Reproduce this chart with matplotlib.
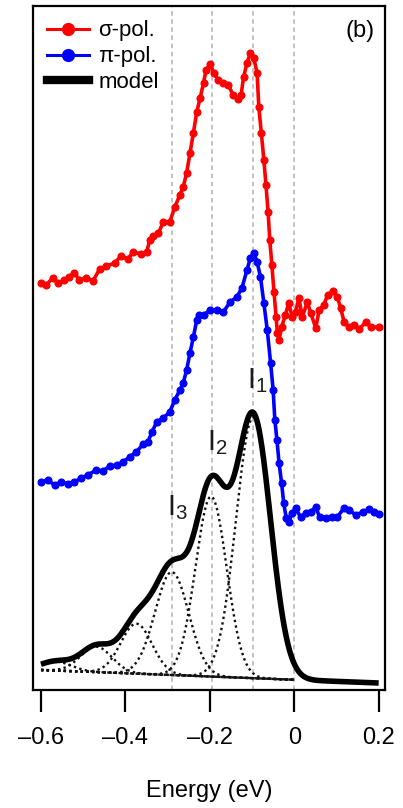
import numpy as np
import matplotlib
matplotlib.use("Agg")
import matplotlib.pyplot as plt
from matplotlib.lines import Line2D

plt.rcParams['font.family'] = ['Liberation Sans', 'DejaVu Sans']
plt.rcParams['mathtext.fontset'] = 'custom'
plt.rcParams['mathtext.rm'] = 'Liberation Sans'
plt.rcParams['mathtext.it'] = 'Liberation Sans'

# sigma-polarised spectrum (offset vertically)
sigma_energy = [-0.600, -0.588, -0.572, -0.560, -0.545, -0.533, -0.521, -0.509, -0.493, -0.477,
                -0.461, -0.445, -0.425, -0.411, -0.394, -0.382, -0.362, -0.350, -0.342, -0.334,
                -0.322, -0.310, -0.295, -0.283, -0.271, -0.263, -0.255, -0.247, -0.239, -0.231,
                -0.223, -0.215, -0.209, -0.199, -0.191, -0.180, -0.168, -0.156, -0.145, -0.134,
                -0.126, -0.120, -0.112, -0.104, -0.096, -0.088, -0.084, -0.078, -0.072, -0.067,
                -0.062, -0.058, -0.053, -0.048, -0.043, -0.040, -0.036, -0.030, -0.021, -0.013,
                -0.005, 0.003, 0.011, 0.019, 0.031, 0.039, 0.051, 0.059, 0.070, 0.079,
                0.092, 0.102, 0.110, 0.118, 0.130, 0.142, 0.154, 0.170, 0.182, 0.201]
sigma_intensity = [4.07, 4.05, 4.12, 4.07, 4.10, 4.13, 4.17, 4.10, 4.12, 4.09,
                   4.21, 4.24, 4.27, 4.34, 4.31, 4.38, 4.36, 4.38, 4.50, 4.54,
                   4.57, 4.68, 4.68, 4.83, 4.95, 5.03, 5.17, 5.37, 5.57, 5.78,
                   5.92, 6.07, 6.20, 6.26, 6.17, 6.10, 6.07, 6.05, 5.95, 5.91,
                   5.95, 6.13, 6.27, 6.37, 6.32, 6.17, 5.83, 5.57, 5.30, 5.05,
                   4.78, 4.50, 4.25, 3.98, 3.73, 3.57, 3.50, 3.63, 3.75, 3.87,
                   3.73, 3.78, 3.92, 3.73, 3.88, 3.77, 3.62, 3.80, 3.85, 3.95,
                   3.99, 3.93, 3.82, 3.68, 3.63, 3.65, 3.61, 3.68, 3.63, 3.63]

# pi-polarised spectrum
pi_energy = [-0.600, -0.584, -0.568, -0.552, -0.537, -0.521, -0.505, -0.489, -0.469, -0.453,
             -0.437, -0.421, -0.406, -0.390, -0.374, -0.358, -0.347, -0.337, -0.326, -0.310,
             -0.295, -0.283, -0.271, -0.263, -0.255, -0.247, -0.239, -0.231, -0.225, -0.215,
             -0.199, -0.183, -0.168, -0.152, -0.136, -0.124, -0.112, -0.104, -0.096, -0.088,
             -0.080, -0.072, -0.064, -0.056, -0.050, -0.046, -0.041, -0.036, -0.030, -0.025,
             -0.019, -0.013, -0.005, 0.003, 0.015, 0.027, 0.039, 0.051, 0.060, 0.075,
             0.090, 0.102, 0.118, 0.130, 0.146, 0.162, 0.178, 0.190, 0.201]
pi_intensity = [2.08, 2.10, 2.05, 2.08, 2.06, 2.08, 2.12, 2.15, 2.20, 2.19,
                2.24, 2.25, 2.28, 2.33, 2.38, 2.46, 2.48, 2.58, 2.68, 2.72,
                2.78, 2.90, 3.00, 3.07, 3.20, 3.37, 3.53, 3.70, 3.75, 3.75,
                3.80, 3.80, 3.78, 3.88, 3.93, 4.02, 4.20, 4.32, 4.37, 4.28,
                4.13, 3.87, 3.60, 3.27, 3.00, 2.70, 2.50, 2.27, 2.07, 1.87,
                1.72, 1.68, 1.77, 1.82, 1.73, 1.77, 1.78, 1.83, 1.73, 1.72,
                1.73, 1.73, 1.82, 1.80, 1.75, 1.78, 1.81, 1.78, 1.76]

# model: linear background plus Gaussian components
background_ends = [0.20, 0.07]          # background at -0.6 eV and 0.2 eV
peak_centers = [-0.097, -0.197, -0.290, -0.374, -0.469, -0.565]
peak_amplitudes = [2.61, 1.80, 1.03, 0.50, 0.255, 0.09]
peak_widths = [0.041, 0.037, 0.040, 0.037, 0.037, 0.037]

# reference energies (dashed guides) and peak labels
guide_energies = [-0.290, -0.195, -0.097, 0.0]
peak_labels = [r'$\mathregular{I_1}$', r'$\mathregular{I_2}$', r'$\mathregular{I_3}$']
label_positions = [(-0.112, 3.02), (-0.206, 2.40), (-0.301, 1.75)]

xticks = [-0.6, -0.4, -0.2, 0.0, 0.2]
xticklabels = ['\u20130.6', '\u20130.4', '\u20130.2', '0', '0.2']

fig = plt.figure(figsize=(4.03, 8.08), dpi=100)
ax = fig.add_axes([33 / 403, 118 / 808, 352 / 403, 684 / 808])

for e in guide_energies:
    ax.axvline(e, color='#bdbdbd', lw=1.3, ls=(0, (2.5, 2)), zorder=0)

def background(e):
    e = np.asarray(e)
    return background_ends[0] + (background_ends[1] - background_ends[0]) * (e + 0.6) / 0.8

def gauss(e, c, a, w):
    return a * np.exp(-0.5 * ((e - c) / w) ** 2)

grid = np.linspace(-0.6, 0.2, 600)
part = grid[grid <= 0.0]
model = background(grid) + sum(gauss(grid, c, a, w)
                               for c, a, w in zip(peak_centers, peak_amplitudes, peak_widths))

dot_style = dict(color='#111111', lw=1.7, ls=(0, (1, 1.4)), zorder=2)
ax.plot(part, background(part), **dot_style)
for c, a, w in zip(peak_centers, peak_amplitudes, peak_widths):
    ax.plot(part, background(part) + gauss(part, c, a, w), **dot_style)
ax.plot(grid, model, color='black', lw=4.0, solid_capstyle='butt', zorder=3)

ax.plot(sigma_energy, sigma_intensity, color='#ff0000', lw=2.6, marker='o', ms=4.8,
        mec='#ff0000', mfc='#ff0000', zorder=4)
ax.plot(pi_energy, pi_intensity, color='#0000ff', lw=2.6, marker='o', ms=4.8,
        mec='#0000ff', mfc='#0000ff', zorder=4)

for text, (x, y) in zip(peak_labels, label_positions):
    ax.text(x, y, text, fontsize=21, ha='left', va='baseline', color='#1a1a1a', zorder=5)

ax.text(0.93, 0.963, '(b)', transform=ax.transAxes, fontsize=17, ha='center', va='center')

handles = [Line2D([], [], color='#ff0000', lw=2.2, marker='o', ms=8.5),
           Line2D([], [], color='#0000ff', lw=2.2, marker='o', ms=8.5),
           Line2D([], [], color='black', lw=6)]
ax.legend(handles, ['\u03c3-pol.', '\u03c0-pol.', 'model'], loc='upper left',
          bbox_to_anchor=(0.0, 1.0), frameon=False, fontsize=16, handlelength=1.85,
          handletextpad=0.45, labelspacing=0.22, borderaxespad=0.45, borderpad=0.2)

ax.set_xlim(-0.619, 0.215)
ax.set_ylim(0, 6.84)
ax.set_yticks([])
ax.set_xticks(xticks)
ax.set_xticklabels(xticklabels)
ax.tick_params(axis='x', direction='out', length=16, width=1.6, labelsize=17, pad=11)
for s in ax.spines.values():
    s.set_linewidth(1.6)
ax.set_xlabel('Energy (eV)', fontsize=17, labelpad=22)

fig.savefig('out.png', dpi=100)
